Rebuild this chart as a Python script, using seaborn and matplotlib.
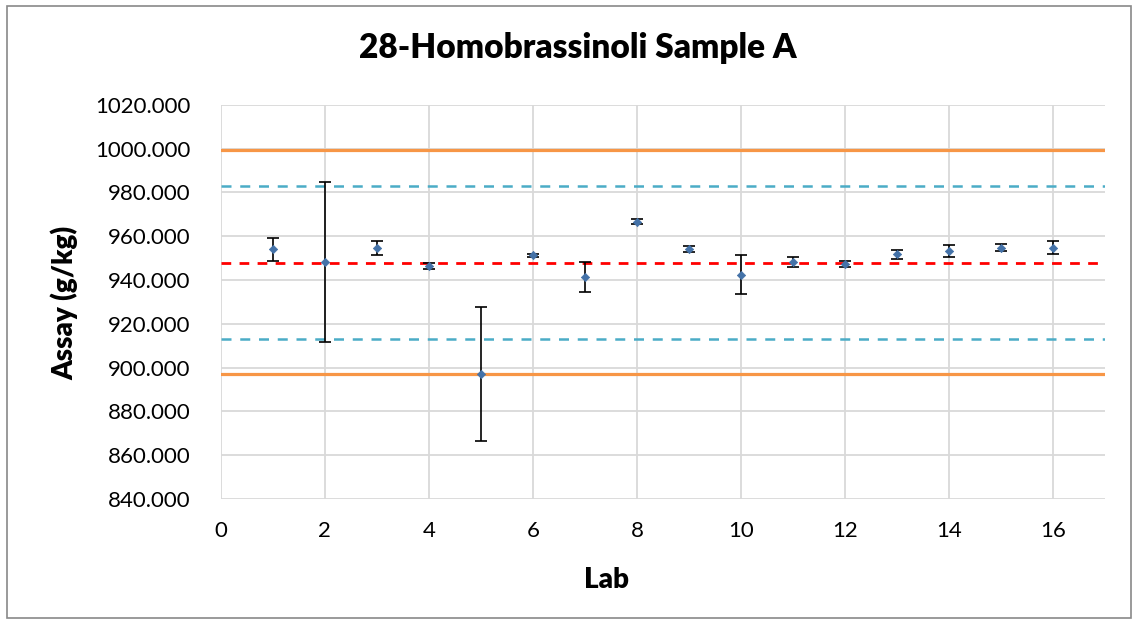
import numpy as np
import pandas as pd
import matplotlib
matplotlib.use("Agg")
import matplotlib.pyplot as plt
from matplotlib.patches import Rectangle
import seaborn as sns

labs = [1, 2, 3, 4, 5, 6, 7, 8, 9, 10, 11, 12, 13, 14, 15, 16]
assay = [954.1, 948.4, 954.5, 946.5, 897.1, 951.3, 941.4, 966.7,
         954.1, 942.5, 948.1, 947.2, 951.8, 953.3, 954.7, 954.7]
err = [5.2, 36.5, 3.2, 1.5, 30.7, 0.8, 7.0, 1.2,
       1.4, 9.1, 2.3, 1.3, 2.0, 2.8, 1.6, 2.9]

mean_line = 948.0
inner_limits = [982.8, 913.1]
outer_limits = [999.2, 896.9]

title = "28-Homobrassinoli Sample A"

df = pd.DataFrame({"Lab": labs, "Assay": assay, "err": err})

sns.set_style("white")
plt.rcParams['font.family'] = ['Lato', 'DejaVu Sans']
plt.rcParams['text.color'] = 'black'

fig = plt.figure(figsize=(11.38, 6.24), dpi=100)
ax = fig.add_axes([0.194, 0.2003, 0.777, 0.6317])

grid_c = "#d9d9d9"
ax.set_xlim(0, 17)
ax.set_ylim(840, 1020)
ax.set_xticks(range(0, 17, 2))
ax.set_yticks(np.arange(840, 1021, 20))
ax.set_yticklabels([f"{v:.3f}" for v in np.arange(840, 1021, 20)])
ax.grid(True, color=grid_c, linewidth=1.3)
ax.set_axisbelow(True)
for s in ax.spines.values():
    s.set_visible(False)
ax.tick_params(axis="both", length=6, width=1.3, color=grid_c,
               labelsize=16, labelcolor="black")
ax.tick_params(axis="y", pad=16)
ax.tick_params(axis="x", pad=10)

for y in outer_limits:
    ax.axhline(y, color="#f79646", linewidth=2.3, zorder=2)
for y in inner_limits:
    ax.axhline(y, color="#4bacc6", linewidth=1.8, linestyle=(0, (4, 3.5)), zorder=2)
ax.axhline(mean_line, color="#ff0000", linewidth=2.0, linestyle=(0, (3.5, 3)), zorder=2)

ax.errorbar(df["Lab"], df["Assay"], yerr=df["err"], fmt="none",
            ecolor="black", elinewidth=1.2, capsize=4.5, capthick=1.2, zorder=3)
sns.scatterplot(data=df, x="Lab", y="Assay", marker="D", s=18,
                color="#4472a8", edgecolor="#4472a8", linewidth=0.5,
                ax=ax, zorder=4)

ax.set_xlabel("")
ax.set_ylabel("")
fig.text(0.5075, 0.923, title, ha="center", va="center",
         fontsize=24, fontweight="heavy", color="black")
fig.text(606 / 1138, 1 - 580 / 624, "Lab", ha="center", va="center",
         fontsize=20, fontweight="heavy", color="black")
fig.text(65 / 1138, 1 - 303 / 624, "Assay (g/kg)", ha="center", va="center",
         rotation=90, fontsize=20, fontweight="heavy", color="black")

fig.patches.append(Rectangle((7 / 1138, 6 / 624), 1124 / 1138, 612 / 624,
                             transform=fig.transFigure, fill=False,
                             edgecolor="#898989", linewidth=1.2))

fig.savefig("out.png", dpi=100)
